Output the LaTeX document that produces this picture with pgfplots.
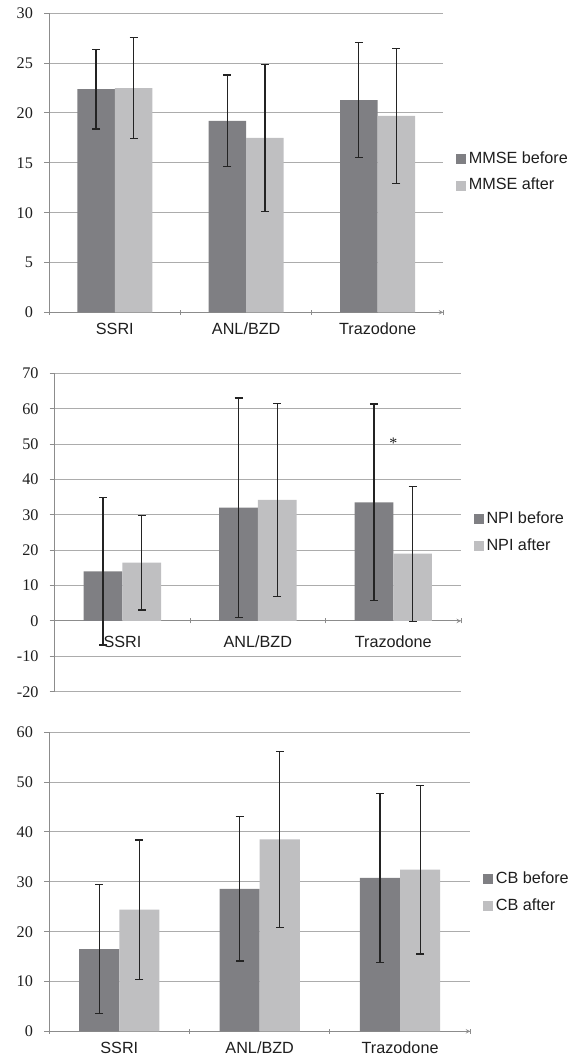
\documentclass[border=0pt]{standalone}
\usepackage{pgfplots}
\pgfplotsset{compat=1.18}
\usepackage{fontspec}
\setmainfont{Liberation Sans}
\newfontfamily\serifnum{Liberation Serif}
\newcommand\lab{\fontsize{16.2}{19}\selectfont}
\definecolor{bardark}{RGB}{127,127,131}
\definecolor{barlight}{RGB}{191,191,193}
\definecolor{gridc}{RGB}{172,172,172}
\definecolor{axisc}{RGB}{140,140,140}
\definecolor{errc}{RGB}{35,35,35}
\definecolor{txt}{RGB}{30,30,30}
\pgfplotsset{
  panel/.style={
    scale only axis,
    axis y line=left,
    axis line style={-, draw=axisc, line width=1pt},
    xmin=-0.5, xmax=2.5,
    xtick={0,1,2}, xticklabels={SSRI,ANL/BZD,Trazodone},
    major x tick style={draw=none},
    extra x ticks={-0.5,0.5,1.5,2.5},
    extra x tick labels={},
    extra x tick style={major x tick style={draw=axisc,line width=1pt}, grid=none},
    tick align=outside,
    major tick length=5pt,
    ymajorgrids,
    major grid style={draw=gridc, line width=1pt},
    ytick style={draw=axisc, line width=1pt},
    xticklabel style={font=\lab, text=txt, text height=11.6pt, text depth=0pt, inner sep=0pt, yshift=-8pt},
    yticklabel style={font=\lab\serifnum, text=txt, text height=10.8pt, text depth=0pt, inner sep=0pt, xshift=-11pt},
    ybar, bar width=0.2857,
    legend style={draw=none, fill=none, at={(1,0.5)}, anchor=west, xshift=13pt,
      font=\lab, text=txt, inner sep=0pt, outer sep=0pt, row sep=11pt, column sep=2.5pt,
      nodes={inner sep=0pt, text height=12pt, text depth=3.5pt}},
    legend cell align=left,
    legend image code/.code={\fill[##1,draw=none] (0pt,-5pt) rectangle (10pt,5pt);},
    error bars/y dir=both, error bars/y explicit,
    error bars/error bar style={draw=errc, line width=1.2pt},
    error bars/error mark options={draw=errc, line width=1.2pt, mark size=4pt, rotate=90},
  },
  before/.style={fill=bardark, draw=none, bar shift=-0.14285},
  after/.style={fill=barlight, draw=none, bar shift=0.14285},
}
\begin{document}
\begin{tikzpicture}
\path[use as bounding box] (0,0) rectangle (579pt,-1059pt);
% Panel 1: MMSE
\begin{axis}[panel, axis x line=bottom,
  at={(49.1pt,-312.3pt)}, anchor=south west, width=394.2pt, height=299pt,
  ymin=0, ymax=30, ytick={0,5,...,30}, yticklabels={0,5,10,15,20,25,30},
  legend style={yshift=-9.5pt}]
\addplot[before] coordinates {(0,22.4) +- (0,4.0) (1,19.2) +- (0,4.6) (2,21.3) +- (0,5.8)};
\addplot[after] coordinates {(0,22.5) +- (0,5.1) (1,17.5) +- (0,7.4) (2,19.7) +- (0,6.8)};
\legend{MMSE before, MMSE after}
\end{axis}
% Panel 2: NPI
\begin{axis}[panel, axis x line=middle, hide obscured x ticks=false,
  xticklabel style={yshift=-4pt},
  at={(54.7pt,-691.7pt)}, anchor=south west, width=406.3pt, height=318.4pt,
  ymin=-20, ymax=70, ytick={-20,-10,...,70}, yticklabels={-20,-10,0,10,20,30,40,50,60,70}]
\addplot[before] coordinates {(0,14.0) +- (0,20.8) (1,32.0) +- (0,31.0) (2,33.5) +- (0,27.8)};
\addplot[after] coordinates {(0,16.5) +- (0,13.4) (1,34.2) +- (0,27.2) (2,19.0) +- (0,19.1)};
\legend{NPI before, NPI after}
\node[font=\serifnum\fontsize{16}{18}\selectfont, text=txt, inner sep=0pt, anchor=base] at (axis cs:2,48.8) {*};
\end{axis}
% Panel 3: CB
\begin{axis}[panel, axis x line=bottom,
  at={(49.1pt,-1031.3pt)}, anchor=south west, width=421.2pt, height=299pt,
  ymin=0, ymax=60, ytick={0,10,...,60}, yticklabels={0,10,20,30,40,50,60},
  legend style={yshift=-10.9pt}]
\addplot[before] coordinates {(0,16.5) +- (0,13.0) (1,28.6) +- (0,14.5) (2,30.8) +- (0,17.0)};
\addplot[after] coordinates {(0,24.4) +- (0,14.0) (1,38.5) +- (0,17.6) (2,32.45) +- (0,16.95)};
\legend{CB before, CB after}
\end{axis}
\end{tikzpicture}
\end{document}
